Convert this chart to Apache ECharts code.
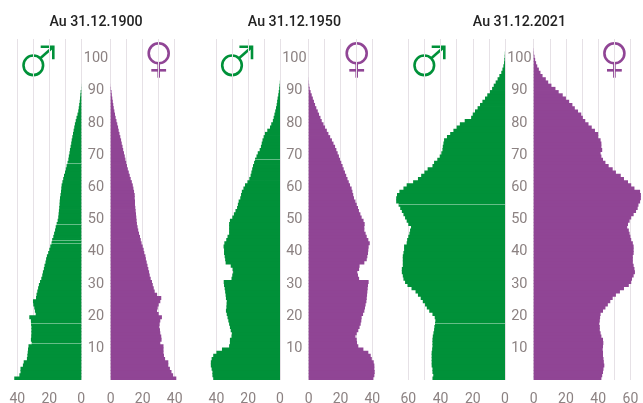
<!DOCTYPE html>
<html>
<head>
<meta charset="utf-8">
<style>html,body{margin:0;padding:0;background:#fff}#chart{width:643px;height:403px}</style>
<script src="https://cdn.jsdelivr.net/npm/echarts@6/dist/echarts.min.js"></script>
</head>
<body>
<div id="chart"></div>
<script>
// effectifs par age (0 a 105)
var titles = ['Au 31.12.1900', 'Au 31.12.1950', 'Au 31.12.2021'];

var male1900 = [
  41.9,38.7,38,38,36.5,36,34,33.7,33.5,33.3,
  33,31,31.5,31.3,31.2,31.2,31.2,31.4,31.5,32.5,
  28.5,29,29.4,30,30.2,28.3,28,27.5,27,26.5,
  25.8,25,24.4,24,23.4,23,22.4,22,21.5,20.7,
  20,19.4,18.6,18.2,17.5,17,16.4,16,15.4,14.8,
  14.4,14.2,14,13.8,13.6,13.5,13.3,13,12.7,12.5,
  12.3,11.8,11.3,10.8,10.2,9.7,9.2,8.6,8.1,7.8,
  7.4,7.1,6.7,6.3,6,5.6,5.2,4.8,4.4,4,
  3.5,3,2.4,1.9,1.6,1.3,1,0.8,0.6,0.4,
  0.1,0.05,0,0,0,0,0,0,0,0,
  0,0,0,0,0,0
];
var female1900 = [
  41,39,38,37,36,36,34,33.3,33,33,
  33,31,31.8,31.6,31,30.8,30.4,30.6,31,32,
  30,29,29.4,30,31,31.6,29,27.5,26.9,26.3,
  25.8,25,24.4,24,23.5,23,22.5,22,21.7,21,
  20.6,20,19.3,18.8,18.3,17.7,17.2,16.8,16.4,16.2,
  16,15.8,15.6,15.4,15.2,15.2,15,15,14.6,14.2,
  13.8,13.2,12.5,11.9,11.3,10.7,10.2,9.7,9.2,8.8,
  8.3,7.8,7.4,6.9,6.5,6,5.5,5,4.6,4.1,
  3.6,3.1,2.7,2.3,1.9,1.6,1.3,1,0.7,0.5,
  0.2,0.05,0,0,0,0,0,0,0,0,
  0,0,0,0,0,0
];
var male1950 = [
  42,42.5,42.5,43,43.5,43.5,43,42,40,36.5,
  32,31.5,31.5,30.5,30.3,31,31.5,32,32.5,33,
  33.5,34,33.7,33.6,33.5,34,34.2,34.5,34.8,35.2,
  35.4,30.5,30,29.5,29.8,31,34.2,34.5,34.8,35.2,
  35.2,35.5,35,33.8,33,32,32,32,32,31.5,
  30,29,28,27,26.5,26,25,24.5,24,23,
  22,20.5,19.3,18.5,18,17.5,17,16.3,15.7,14.8,
  14,12.8,12,11.5,11,10.3,9.5,8,6.3,5.5,
  4.5,4,3.5,3,2.5,2.1,1.8,1.5,1.1,0.8,
  0.5,0.3,0.1,0,0,0,0,0,0,0,
  0,0,0,0,0,0
];
var female1950 = [
  40.7,41.3,41.5,41.3,41.3,40.9,39.7,39,37.5,34.4,
  31.2,30.4,30.2,29.4,30.2,31.2,32,32.7,33.1,33.3,
  34.2,35,35.4,35.8,36.3,36.5,36.7,36.9,37.1,37.3,
  37.7,31.7,31,30.6,31.7,32,35,36.5,36.9,37.3,
  37.5,37.7,38.4,37.5,36.5,35.8,35,35,35.2,34.5,
  33.3,32.5,31.6,31,30.2,29.4,28.5,28,27.5,27,
  26,25.2,24.4,23.6,22.8,22,21.3,20.5,19.7,19,
  18.2,17.4,16.6,15.6,14.6,13.5,12.4,11.4,10.3,9.3,
  8.2,7.4,6.5,5.7,4.8,4,3.3,2.6,1.9,1.2,
  0.6,0.3,0.15,0.05,0,0,0,0,0,0,
  0,0,0,0,0,0
];
var male2021 = [
  45,44.5,45,45,45.5,45.5,45.5,45.5,45.5,45.2,
  45,45,45,44.8,44.4,44,43.8,43.4,43.2,43.6,
  45,47,48.5,49.6,51,52.3,54,55.5,58,60.5,
  62,63,63.4,64,64,63.4,63.4,63.4,63.4,63,
  62.6,62.6,61,60.7,60,59.3,58.9,58.3,60,61,
  62,63,64,65,66,67.5,67.5,67,65.5,63,
  61,57,54,52,50,48,45,44,42,40.5,
  39.5,38.8,38.6,38.2,37.8,36,34,32,30,28,
  25,21,20,18.6,17,15.5,14,12.4,11,9.3,
  8,7,5.8,4.6,3.5,2.3,1.6,1,0.6,0.4,
  0.2,0.1,0,0,0,0
];
var female2021 = [
  42,42.5,43,43.3,43.8,43.5,43.3,43,43,42.8,
  43,43.2,43,42,41.5,41,41,40.7,41,41.2,
  41.5,43,44.5,46,47.5,49,51,53.5,56,59,
  60.5,61,62,62.8,62.5,62,61.5,61.5,61.5,62,
  62,62,61.5,60.5,60,59.5,59,58,58.5,59.5,
  60.5,62,63.5,64.5,65,66,66.5,66.5,66,62.5,
  60.5,58.5,56,54,51,49,46.5,44.5,43,42,
  41.5,42.5,42,42,41.5,40,40,38,36,34,
  32,30.5,29.5,27.5,25.5,24,22,20,18,15.5,
  13.5,11,9,7.5,5.5,4.2,3.2,2.2,1.5,0.9,
  0.5,0.2,0.1,0,0,0
];
// lignes claires visibles dans les barres hommes
var seams1900 = [67, 48, 43, 42, 17, 11];
var seams1950 = [68];
var seams2021 = [54, 17];

var ages = male1900.map(function (v, i) { return String(i); });

var GREEN = '#009139';
var PURPLE = '#904595';
var GREY = '#8c8282';
var GRID = '#e6e1e6';
var TOP = 39, BOTTOM = 403 - 380;

// l'axe depasse la derniere graduation pour laisser de la place aux barres les plus longues
var panels = [
  { title: titles[0], male: male1900, female: female1900, seams: seams1900, mz: 81.3, fz: 110.7, scale: 1.6, max: 50, icon: 48 },
  { title: titles[1], male: male1950, female: female1950, seams: seams1950, mz: 280, fz: 308.7, scale: 1.59, max: 50, icon: 48 },
  { title: titles[2], male: male2021, female: female2021, seams: seams2021, mz: 505, fz: 533.7, scale: 1.612, max: 70, icon: 80.7 }
];

var title = [], grid = [], xAxis = [], yAxis = [], series = [], graphic = [];

function makeXAxis(index, inverse, max) {
  return {
    gridIndex: index, type: 'value', inverse: inverse, min: 0, max: max, interval: 10,
    axisLine: { show: false }, axisTick: { show: false },
    axisLabel: {
      color: GREY, fontFamily: 'Roboto', fontSize: 14, margin: 12, hideOverlap: false,
      formatter: function (v) { return v % 20 === 0 ? String(v) : ''; }
    },
    splitLine: { show: true, showMaxLine: false, lineStyle: { color: GRID, width: 1 } }
  };
}

function makeYAxis(index, labels, margin) {
  return {
    gridIndex: index, type: 'category', data: ages, position: 'left',
    axisLine: { show: false }, axisTick: { show: false }, splitLine: { show: false },
    axisLabel: {
      show: labels, align: 'center', margin: margin,
      formatter: function (v) { return '{a|' + v + '}'; },
      rich: { a: { color: GREY, fontFamily: 'Roboto', fontSize: 14.5, padding: [4, 0, 0, 0] } },
      interval: function (i) { return i > 0 && i % 10 === 0; }
    }
  };
}

function addIcons(p) {
  var cx = p.mz - p.icon;
  graphic.push(
    { type: 'circle', shape: { cx: cx, cy: 65.3, r: 9.8 }, style: { fill: 'none', stroke: GREEN, lineWidth: 2.6 } },
    { type: 'polyline', shape: { points: [[cx + 7, 58.2], [cx + 20, 46.7]] }, style: { fill: 'none', stroke: GREEN, lineWidth: 2.6 } },
    { type: 'polyline', shape: { points: [[cx + 7.4, 46.7], [cx + 20, 46.7], [cx + 20, 59.3]] }, style: { fill: 'none', stroke: GREEN, lineWidth: 2.6 } }
  );
  cx = p.fz + p.icon;
  graphic.push(
    { type: 'circle', shape: { cx: cx, cy: 53.3, r: 10 }, style: { fill: 'none', stroke: PURPLE, lineWidth: 2.6 } },
    { type: 'line', shape: { x1: cx, y1: 64, x2: cx, y2: 77.7 }, style: { stroke: PURPLE, lineWidth: 2.6 } },
    { type: 'line', shape: { x1: cx - 7.4, y1: 70.3, x2: cx + 7.4, y2: 70.3 }, style: { stroke: PURPLE, lineWidth: 2.6 } }
  );
}

panels.forEach(function (p, n) {
  var mi = n * 2, fi = n * 2 + 1;
  var w = p.scale * p.max;

  title.push({
    text: p.title, left: (p.mz + p.fz) / 2 - 46.5 - 5, top: 10.5,
    textStyle: { color: '#222', fontFamily: 'Roboto', fontSize: 14.2, fontWeight: 500 }
  });

  grid.push(
    { left: p.mz - w, width: w, top: TOP, bottom: BOTTOM, outerBoundsMode: 'none' },
    { left: p.fz, width: w, top: TOP, bottom: BOTTOM, outerBoundsMode: 'none' }
  );
  xAxis.push(makeXAxis(mi, true, p.max), makeXAxis(fi, false, p.max));
  yAxis.push(makeYAxis(mi, false, 0), makeYAxis(fi, true, (p.fz - p.mz) / 2));

  series.push({
    type: 'bar', xAxisIndex: mi, yAxisIndex: mi, data: p.male, barWidth: 4,
    itemStyle: { color: GREEN }, silent: true, animation: false,
    markLine: {
      silent: true, symbol: 'none', animation: false, label: { show: false },
      lineStyle: { color: '#fff', opacity: 0.4, width: 1, type: 'solid' },
      data: p.seams.map(function (a) { return [{ coord: [0, a] }, { coord: [p.male[a], a] }]; })
    }
  }, {
    type: 'bar', xAxisIndex: fi, yAxisIndex: fi, data: p.female, barWidth: 4,
    itemStyle: { color: PURPLE }, silent: true, animation: false
  });

  addIcons(p);
});

var chart = echarts.init(document.getElementById('chart'), null, { renderer: 'canvas' });
chart.setOption({
  animation: false,
  backgroundColor: '#fff',
  title: title,
  grid: grid,
  xAxis: xAxis,
  yAxis: yAxis,
  series: series,
  graphic: graphic
});
</script>
</body>
</html>
